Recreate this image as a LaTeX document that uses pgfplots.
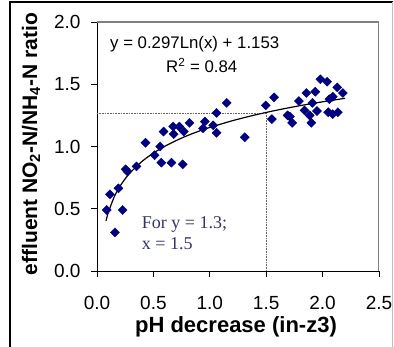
\documentclass[border=0pt]{standalone}
\usepackage{pgfplots}
\pgfplotsset{compat=1.18}
\usepackage{fontspec}
\setmainfont{Liberation Sans}
\newfontfamily\seriffont{Liberation Serif}
\definecolor{navy}{RGB}{0,0,128}
\definecolor{notecol}{RGB}{51,51,102}
\begin{document}
\begin{tikzpicture}[x=1pt,y=1pt]
\useasboundingbox (0,0) rectangle (394,-347);
\draw[black,line width=1.5pt] (10,-347) -- (10,-2) -- (393,-2);
\draw[black!25, line width=1pt] (392.5,-2) -- (392.5,-347);
\begin{axis}[
  at={(97pt,-271pt)}, anchor=south west,
  scale only axis, width=282pt, height=249pt,
  xmin=0, xmax=2.5, ymin=0, ymax=2,
  axis x line*=bottom, axis y line*=left,
  axis line style={-, black, line width=0.8pt},
  xtick={0,0.5,...,2.5}, ytick={0,0.5,...,2},
  tick style={black, line width=0.8pt},
  tick align=outside, major tick length=6pt,
  ticklabel style={font=\fontsize{19}{19}\selectfont},
  xticklabel style={yshift=-16pt},
  yticklabel style={xshift=-7pt},
  /pgf/number format/.cd, fixed, fixed zerofill, precision=1, assume math mode=true,
]
\draw[black!50, line width=2pt] (axis description cs:0,1) -- (axis description cs:1,1) -- (axis description cs:1,0);
\addplot[black!60, densely dotted, line width=0.6pt] coordinates {(0,1.27) (1.5,1.27) (1.5,0)};
\addplot[only marks, mark=square*, mark size=3.2pt, mark options={rotate=45, fill=navy, draw=navy}] coordinates {
(0.086,0.49) (0.115,0.616) (0.159,0.31) (0.19,0.664) (0.227,0.49)
(0.254,0.817) (0.27,0.80) (0.35,0.84) (0.43,1.03) (0.51,0.93)
(0.56,1.00) (0.57,0.87) (0.59,1.12) (0.66,0.87) (0.675,1.16)
(0.68,1.10) (0.73,1.16) (0.76,0.857) (0.77,1.12) (0.82,1.19)
(0.94,1.146) (0.956,1.20) (1.03,1.17) (1.06,1.11) (1.06,1.27)
(1.15,1.35) (1.31,1.074) (1.496,1.33) (1.57,1.395) (1.55,1.22)
(1.69,1.25) (1.71,1.24) (1.73,1.19) (1.79,1.365) (1.856,1.43)
(1.935,1.44) (1.84,1.29) (1.885,1.25) (1.90,1.19) (1.95,1.285)
(1.98,1.54) (2.04,1.52) (2.06,1.38) (2.05,1.275) (2.09,1.26)
(2.13,1.475) (2.135,1.275) (2.18,1.43) (2.09,1.40) (1.91,1.35)
};
\addplot[black, line width=1.2pt, smooth, no markers] coordinates {
(0.08,0.403) (0.1,0.469) (0.15,0.590) (0.2,0.675) (0.25,0.741) (0.3,0.795)
(0.4,0.881) (0.5,0.947) (0.6,1.001) (0.7,1.047) (0.8,1.087) (0.9,1.122)
(1.0,1.153) (1.2,1.207) (1.4,1.253) (1.6,1.293) (1.8,1.328) (2.0,1.359) (2.2,1.387)
};
\end{axis}
\node[anchor=base west, inner sep=0, font=\fontsize{16.8}{16.8}\selectfont] at (110,-49) {y = 0.297Ln(x) + 1.153};
\node[anchor=base west, inner sep=0, font=\fontsize{16.8}{16.8}\selectfont] at (166,-73) {R\textsuperscript{2} = 0.84};
\node[anchor=base west, inner sep=0, text=notecol, font=\seriffont\fontsize{18}{18}\selectfont] at (141.7,-229) {For y = 1.3;};
\node[anchor=base west, inner sep=0, text=notecol, font=\seriffont\fontsize{18}{18}\selectfont] at (141.7,-250) {x = 1.5};
\node[rotate=90, anchor=base, inner sep=0, font=\bfseries\fontsize{21}{21}\selectfont] at (37,-144) {effluent NO\textsubscript{2}-N/NH\textsubscript{4}-N ratio};
\node[anchor=base, inner sep=0, font=\bfseries\fontsize{22}{22}\selectfont] at (236,-333) {pH decrease (in-z3)};
\end{tikzpicture}
\end{document}
